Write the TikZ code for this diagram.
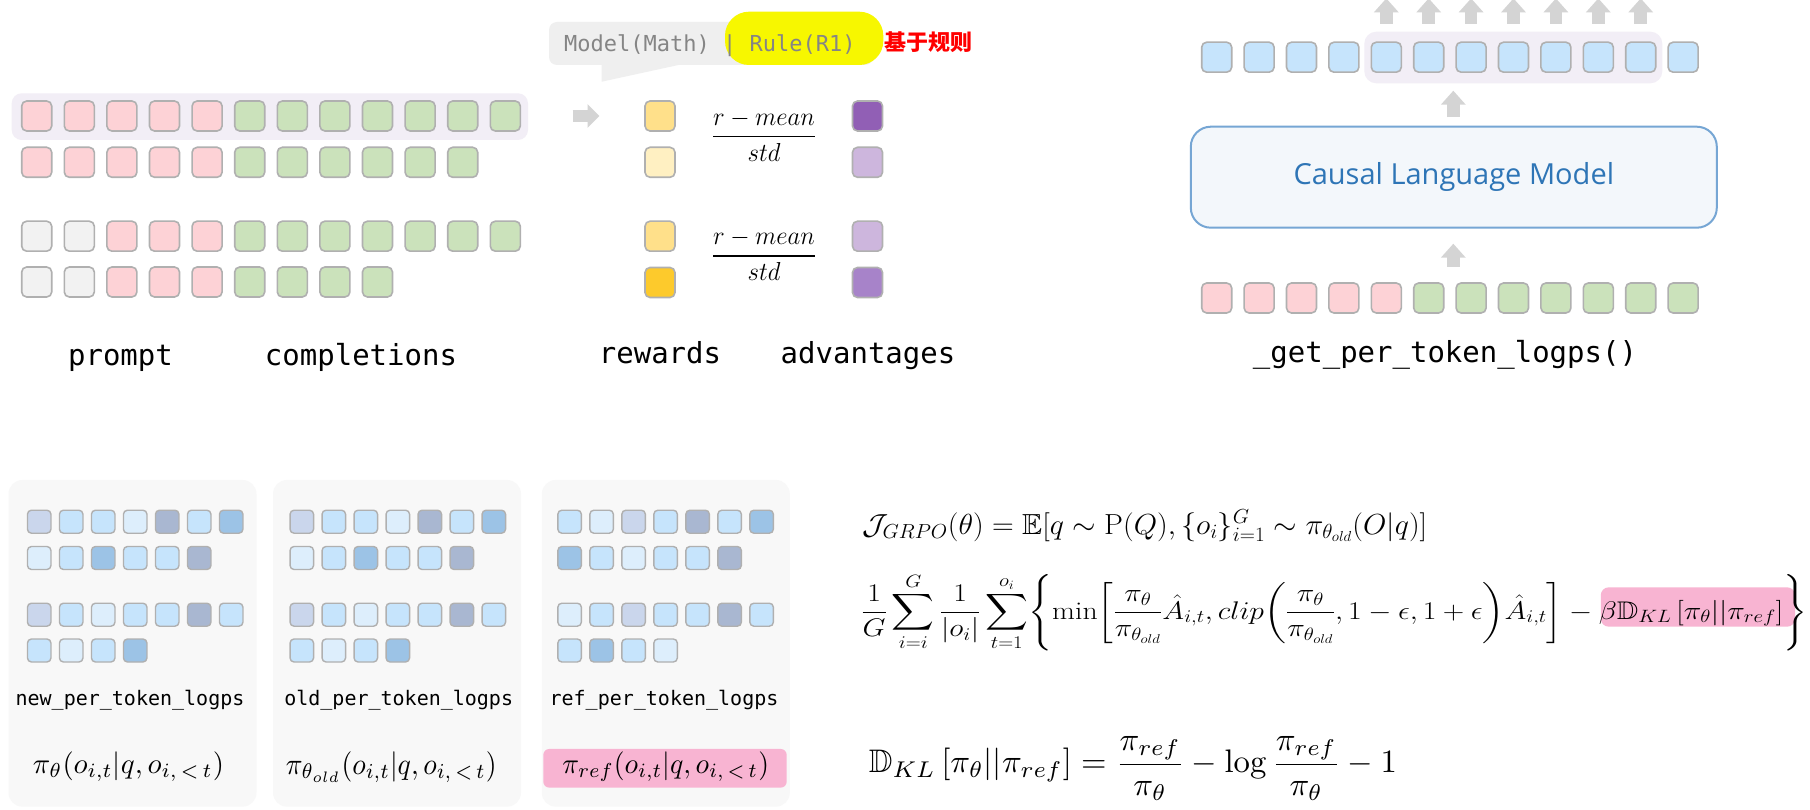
\documentclass[tikz,border=0pt]{standalone}
\usepackage{fix-cm}
\usepackage{amsmath,amssymb}
\usepackage{graphicx}
\usepackage{fontspec}
\setmonofont{DejaVu Sans Mono}
\newfontfamily\cjkfont{Noto Sans CJK SC}
\newfontfamily\clmfont{Open Sans}
\usetikzlibrary{arrows.meta}
\definecolor{tkP}{HTML}{FDD2D6}
\definecolor{tkG}{HTML}{CBE2BB}
\definecolor{tkE}{HTML}{F2F2F2}
\definecolor{tkBorder}{HTML}{B0B0B0}
\definecolor{tkBlue}{HTML}{C6E4FC}
\definecolor{hlLav}{HTML}{F2EEF6}
\definecolor{rwA}{HTML}{FFE08A}
\definecolor{rwB}{HTML}{FFF0C2}
\definecolor{rwC}{HTML}{FDCA2C}
\definecolor{adA}{HTML}{915FB5}
\definecolor{adB}{HTML}{CDB6DD}
\definecolor{adC}{HTML}{A783C9}
\definecolor{arrGray}{HTML}{D4D4D4}
\definecolor{clmFill}{HTML}{F3F7FB}
\definecolor{clmBorder}{HTML}{76A6D4}
\definecolor{clmText}{HTML}{2E75B6}
\definecolor{panelBg}{HTML}{F8F8F8}
\definecolor{pinkHL}{HTML}{F8B4D2}
\definecolor{bubbleBg}{HTML}{EFEFEF}
\definecolor{bubbleTx}{HTML}{858585}
\definecolor{yel}{HTML}{F7F700}
\definecolor{sB}{HTML}{C6E4FC}
\definecolor{sV}{HTML}{DDEEFC}
\definecolor{sL}{HTML}{CAD6EC}
\definecolor{sG}{HTML}{A9B7D1}
\definecolor{sM}{HTML}{9CC3E6}
\newcommand{\srow}[4]{\foreach \c [count=\i] in {#4} {\node[stok,fill=s\c] (#1-\i) at ({#2+(\i-1)*32},#3) {};}}
\newcommand{\brow}[4]{\foreach \c [count=\i] in {#4} {\node[tok,fill=tk\c] (#1-\i) at ({#2+(\i-1)*42.6},#3) {};}}
\begin{document}
\begin{tikzpicture}[x=1pt,y=-1pt,
  tok/.style={draw=tkBorder, line width=1.6pt, rounded corners=5pt, minimum width=30pt, minimum height=30pt, inner sep=0pt},
  stok/.style={draw=tkBorder, line width=1.4pt, rounded corners=4pt, minimum width=23.5pt, minimum height=23pt, inner sep=0pt},
  barrow/.style={draw=arrGray, line width=12.5pt, -{Triangle[width=24pt,length=14pt]}},
  biglbl/.style={font=\fontsize{29}{34}\selectfont\ttfamily, inner sep=0pt, anchor=base},
  smlbl/.style={font=\fontsize{20}{24}\selectfont\ttfamily, inner sep=0pt, anchor=base},
  hlbox/.style={fill=hlLav, rounded corners=10pt, inner sep=0pt},
  panel/.style={fill=panelBg, rounded corners=14pt, minimum width=248pt, minimum height=326.7pt, inner sep=0pt},
  fml/.style={inner sep=0pt, anchor=center}]
\useasboundingbox (0,0) rectangle (1810,810);
\clip (0,0) rectangle (1810,810);
\fill[white] (0,0) rectangle (1810,810);

% ---------- top left: prompts and completions
\node[hlbox, minimum width=516.3pt, minimum height=46.7pt] (hlA) at (269.85,116.65) {};
\brow{ra}{36.7}{116}{P,P,P,P,P,G,G,G,G,G,G,G}
\brow{rb}{36.7}{162.3}{P,P,P,P,P,G,G,G,G,G,G}
\brow{rc}{36.7}{236.2}{E,E,P,P,P,G,G,G,G,G,G,G}
\brow{rd}{36.7}{282}{E,E,P,P,P,G,G,G,G}
\node[biglbl] (lprompt) at (120.5,365) {prompt};
\node[biglbl] (lcompl) at (361,365) {completions};

% ---------- bubble
\node[fill=bubbleBg, rounded corners=8pt, minimum width=324pt, minimum height=43pt, inner sep=0pt] (bub) at (711,43.5) {};
\fill[bubbleBg] (601.7,64) -- (601.7,81.7) -- (683,64) -- cycle;
\fill[yel, rounded corners=24pt] (725,11.7) rectangle (883.3,65);
\node[anchor=base west, inner sep=0pt, text=bubbleTx, font=\fontsize{22}{26}\selectfont\ttfamily] (btxt) at (564,52) {Model(Math) | Rule(R1)};
\node[anchor=base west, inner sep=0pt, text=red, font=\cjkfont\bfseries\fontsize{22}{26}\selectfont] (cn) at (884,51) {基于规则};

% ---------- rewards / advantages
\coordinate (ga1) at (572.7,116);
\coordinate (ga2) at (599.5,116);
\draw[barrow, line width=12pt, -{Triangle[width=23pt,length=12pt]}] (ga1) -- (ga2);
\node[tok, fill=rwA] (rw1) at (660,116) {};
\node[tok, fill=rwB] (rw2) at (660,162.3) {};
\node[tok, fill=rwA] (rw3) at (660,236.2) {};
\node[tok, fill=rwC] (rw4) at (660,282.5) {};
\node[tok, fill=adA] (ad1) at (867.5,116) {};
\node[tok, fill=adB] (ad2) at (867.5,162.3) {};
\node[tok, fill=adB] (ad3) at (867.5,236.2) {};
\node[tok, fill=adC] (ad4) at (867.5,282.5) {};
\node[anchor=base, inner sep=0pt] (fr1) at (764,143.2) {\fontsize{26}{30}\selectfont\resizebox{104pt}{\height}{$\dfrac{r-mean}{std}$}};
\node[anchor=base, inner sep=0pt] (fr2) at (764,262.5) {\fontsize{26}{30}\selectfont\resizebox{104pt}{\height}{$\dfrac{r-mean}{std}$}};
\node[biglbl] (lrew) at (660,363.3) {rewards};
\node[biglbl] (ladv) at (868,363.3) {advantages};

% ---------- top right: causal LM
\node[hlbox, rounded corners=12pt, minimum width=298pt, minimum height=51.6pt] (hlB) at (1513.3,57.5) {};
\foreach \i in {1,...,12} {\node[tok, fill=tkBlue] (tt-\i) at ({1216.7+(\i-1)*42.4},57.2) {};}
\foreach \i in {5,...,11} {\draw[barrow] ([yshift=17.5pt]tt-\i.north) -- ([yshift=43pt]tt-\i.north);}
\node[draw=clmBorder, line width=2pt, fill=clmFill, rounded corners=20pt, minimum width=526pt, minimum height=101pt, text=clmText, font=\clmfont\fontsize{29}{34}\selectfont] (clm) at (1453.8,177.2) {Causal Language Model};
\draw[barrow] ([xshift=-0.5pt,yshift=8.5pt]clm.north) -- ([xshift=-0.5pt,yshift=35pt]clm.north);
\foreach \c [count=\i] in {P,P,P,P,P,G,G,G,G,G,G,G} {\node[tok,fill=tk\c] (bt-\i) at ({1216.7+(\i-1)*42.4},298) {};}
\draw[barrow] ([xshift=-0.5pt,yshift=-38pt]clm.south) -- ([xshift=-0.5pt,yshift=-15pt]clm.south);
\node[biglbl] (lget) at (1445,362) {\_get\_per\_token\_logps()};

% ---------- bottom panels
\node[panel] (p1) at (132.5,643.3) {};
\node[panel] (p2) at (397,643.3) {};
\node[panel] (p3) at (665.8,643.3) {};
\srow{pa1}{39.2}{521.7}{L,B,B,V,G,B,M}
\srow{pa2}{39.2}{558}{V,B,M,B,B,G}
\srow{pa3}{39.2}{614.7}{L,B,V,B,B,G,B}
\srow{pa4}{39.2}{650.5}{B,V,B,M}
\srow{pb1}{301.8}{521.7}{L,B,B,V,G,B,M}
\srow{pb2}{301.8}{558}{V,B,M,B,B,G}
\srow{pb3}{301.8}{614.7}{L,B,V,B,B,G,B}
\srow{pb4}{301.8}{650.5}{B,V,B,M}
\srow{pc1}{569.6}{521.7}{B,V,L,B,G,B,M}
\srow{pc2}{569.6}{558}{M,B,V,B,B,G}
\srow{pc3}{569.6}{614.7}{V,B,L,B,B,G,B}
\srow{pc4}{569.6}{650.5}{B,M,B,V}
\node[smlbl] (ln1) at (130,705) {new\_per\_token\_logps};
\node[smlbl] (ln2) at (398.7,705) {old\_per\_token\_logps};
\node[smlbl] (ln3) at (664,705) {ref\_per\_token\_logps};
\node[fill=pinkHL, rounded corners=6pt, minimum width=243.4pt, minimum height=38.7pt, inner sep=0pt] (pk3) at (665,768.3) {};
\node[fml] (m1) at (128.5,766.5) {\resizebox*{191pt}{30pt}{$\pi_\theta(o_{i,t}|q,o_{i,\,<\,t})$}};
\node[fml] (m2) at (391.3,767.3) {\resizebox*{210.7pt}{31.5pt}{$\pi_{\theta_{old}}(o_{i,t}|q,o_{i,\,<\,t})$}};
\node[fml] (m3) at (665.7,766.5) {\resizebox*{206.7pt}{30pt}{$\pi_{ref}(o_{i,t}|q,o_{i,\,<\,t})$}};

% ---------- formulas
\node[fill=pinkHL, rounded corners=8pt, minimum width=194.3pt, minimum height=39.4pt, inner sep=0pt] (pk2) at (1697.9,607) {};
\node[inner sep=0pt, anchor=base west] (eq1) at (862,534.5) {\fontsize{29}{34}\selectfont\resizebox{565pt}{\height}{$\mathcal{J}_{GRPO}(\theta)=\mathbb{E}[q\sim \mathrm{P}(Q),\{o_i\}_{i=1}^{G}\sim\pi_{\theta_{old}}(O|q)]$}};
\node[inner sep=0pt, anchor=base west] (eq2) at (861,619) {\fontsize{25.5}{30}\selectfont\resizebox{946pt}{\height}{$\displaystyle \frac{1}{G}\sum_{i=i}^{G}\frac{1}{|o_i|}\sum_{t=1}^{o_i}\Biggl\{\min\biggl[\frac{\pi_\theta}{\pi_{\theta_{old}}}\hat{A}_{i,t},clip\biggl(\frac{\pi_\theta}{\pi_{\theta_{old}}},1-\epsilon,1+\epsilon\biggr)\hat{A}_{i,t}\biggr]-\beta\mathbb{D}_{KL}\left[\pi_\theta||\pi_{ref}\right]\Biggr\}$}};
\node[fml] (eq3) at (1133,768.4) {\resizebox*{528pt}{63.3pt}{$\displaystyle \mathbb{D}_{KL}\left[\pi_\theta||\pi_{ref}\right]=\frac{\pi_{ref}}{\pi_\theta}-\log\frac{\pi_{ref}}{\pi_\theta}-1$}};
\end{tikzpicture}
\end{document}
